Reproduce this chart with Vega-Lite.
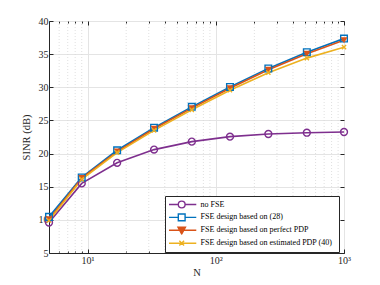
{
  "$schema": "https://vega.github.io/schema/vega-lite/v6.json",
  "width": 295,
  "height": 232,
  "autosize": {"type": "none"},
  "padding": {"left": 49, "top": 21, "right": 36, "bottom": 32},
  "background": "white",
  "view": {"stroke": "#262626", "strokeWidth": 1, "fill": "white"},
  "config": {
    "font": "Liberation Serif",
    "axis": {"labelFont": "Liberation Serif", "titleFont": "Liberation Serif", "labelColor": "#262626", "titleColor": "#262626", "domainColor": "#262626", "tickColor": "#262626", "labelFontSize": 10, "titleFontSize": 10.5, "titleFontWeight": "normal", "gridColor": "#e4e4e4", "labelOverlap": false}
  },
  "datasets": {
    "minor": [
      {"m": 6}, {"m": 7}, {"m": 8}, {"m": 9},
      {"m": 20}, {"m": 30}, {"m": 40}, {"m": 50}, {"m": 60}, {"m": 70}, {"m": 80}, {"m": 90},
      {"m": 200}, {"m": 300}, {"m": 400}, {"m": 500}, {"m": 600}, {"m": 700}, {"m": 800}, {"m": 900}
    ],
    "sinr": [
      {"N": 5, "SINR": 9.6, "series": "no FSE"},
      {"N": 9, "SINR": 15.5, "series": "no FSE"},
      {"N": 17, "SINR": 18.6, "series": "no FSE"},
      {"N": 33, "SINR": 20.6, "series": "no FSE"},
      {"N": 65, "SINR": 21.8, "series": "no FSE"},
      {"N": 129, "SINR": 22.55, "series": "no FSE"},
      {"N": 257, "SINR": 22.95, "series": "no FSE"},
      {"N": 513, "SINR": 23.15, "series": "no FSE"},
      {"N": 1000, "SINR": 23.25, "series": "no FSE"},
      {"N": 5, "SINR": 10.45, "series": "FSE design based on (28)"},
      {"N": 9, "SINR": 16.4, "series": "FSE design based on (28)"},
      {"N": 17, "SINR": 20.5, "series": "FSE design based on (28)"},
      {"N": 33, "SINR": 23.9, "series": "FSE design based on (28)"},
      {"N": 65, "SINR": 27.05, "series": "FSE design based on (28)"},
      {"N": 129, "SINR": 30.05, "series": "FSE design based on (28)"},
      {"N": 257, "SINR": 32.85, "series": "FSE design based on (28)"},
      {"N": 513, "SINR": 35.3, "series": "FSE design based on (28)"},
      {"N": 1000, "SINR": 37.35, "series": "FSE design based on (28)"},
      {"N": 5, "SINR": 10.1, "series": "FSE design based on perfect PDP"},
      {"N": 9, "SINR": 16.3, "series": "FSE design based on perfect PDP"},
      {"N": 17, "SINR": 20.3, "series": "FSE design based on perfect PDP"},
      {"N": 33, "SINR": 23.75, "series": "FSE design based on perfect PDP"},
      {"N": 65, "SINR": 26.85, "series": "FSE design based on perfect PDP"},
      {"N": 129, "SINR": 29.85, "series": "FSE design based on perfect PDP"},
      {"N": 257, "SINR": 32.65, "series": "FSE design based on perfect PDP"},
      {"N": 513, "SINR": 35.05, "series": "FSE design based on perfect PDP"},
      {"N": 1000, "SINR": 37.1, "series": "FSE design based on perfect PDP"},
      {"N": 5, "SINR": 9.9, "series": "FSE design based on estimated PDP  (40)"},
      {"N": 9, "SINR": 16.1, "series": "FSE design based on estimated PDP  (40)"},
      {"N": 17, "SINR": 20.15, "series": "FSE design based on estimated PDP  (40)"},
      {"N": 33, "SINR": 23.5, "series": "FSE design based on estimated PDP  (40)"},
      {"N": 65, "SINR": 26.6, "series": "FSE design based on estimated PDP  (40)"},
      {"N": 129, "SINR": 29.55, "series": "FSE design based on estimated PDP  (40)"},
      {"N": 257, "SINR": 32.2, "series": "FSE design based on estimated PDP  (40)"},
      {"N": 513, "SINR": 34.4, "series": "FSE design based on estimated PDP  (40)"},
      {"N": 1000, "SINR": 36.05, "series": "FSE design based on estimated PDP  (40)"}
    ]
  },
  "layer": [
    {
      "data": {"name": "minor"},
      "mark": {"type": "rule", "color": "#d8d8d8", "strokeDash": [1, 2], "strokeWidth": 0.8},
      "encoding": {
        "x": {"field": "m", "type": "quantitative", "scale": {"type": "log", "domain": [5, 1000], "nice": false},
          "axis": {"orient": "top", "values": [10, 100, 1000], "grid": false, "labels": false, "title": null, "domain": false, "tickSize": -4}}
      }
    },
    {
      "data": {"name": "sinr"},
      "mark": {"type": "line", "strokeWidth": 1.6, "clip": true},
      "encoding": {
        "x": {"field": "N", "type": "quantitative", "title": "N",
          "scale": {"type": "log", "domain": [5, 1000], "nice": false},
          "axis": {"values": [10, 100, 1000], "grid": true, "tickSize": -4, "labelPadding": 6, "titlePadding": 2, "labelFlush": false,
            "labelExpr": "datum.value == 10 ? '10¹' : datum.value == 100 ? '10²' : '10³'"}},
        "y": {"field": "SINR", "type": "quantitative", "title": "SINR (dB)",
          "scale": {"domain": [5, 40], "nice": false, "zero": false},
          "axis": {"values": [5, 10, 15, 20, 25, 30, 35, 40], "tickCount": 20, "grid": true, "tickSize": -4, "labelPadding": 5, "titlePadding": 7, "labelFlush": false}},
        "color": {"field": "series", "type": "nominal", "sort": null,
          "scale": {"domain": ["no FSE", "FSE design based on (28)", "FSE design based on perfect PDP", "FSE design based on estimated PDP  (40)"],
            "range": ["#7E2F8E", "#0072BD", "#D95319", "#EDB120"]},
          "legend": {"orient": "none", "legendX": 116, "legendY": 175, "title": null, "symbolSize": 52, "symbolStrokeWidth": 1.4, "symbolOffset": 8.2,
            "labelFont": "Liberation Serif", "labelFontSize": 8, "labelColor": "#000000", "rowPadding": 3.9, "padding": 4, "clipHeight": 9,
            "fillColor": "white", "strokeColor": "#262626", "labelOffset": 14.4,
            "encode": {"symbols": {"update": {
              "size": {"value": 46},
              "shape": {"signal": "datum.value == 'no FSE' ? 'M-4.3,0H-1A1,1 0 1,1 1,0A1,1 0 1,1 -1,0M1,0H4.3' : datum.value == 'FSE design based on (28)' ? 'M-4.3,0H-1M1,0H4.3M-1,-1H1V1H-1Z' : datum.value == 'FSE design based on perfect PDP' ? 'M-4.3,0H4.3M-1.1,-0.9H1.1L0,1.1Z' : 'M-4.3,0H4.3M-0.7,-0.7L0.7,0.7M-0.7,0.7L0.7,-0.7'"},
              "fill": {"signal": "datum.value == 'FSE design based on perfect PDP' ? '#D95319' : 'transparent'"}
            }}}}}
      }
    },
    {
      "data": {"name": "sinr"},
      "transform": [{"filter": "datum.series == 'no FSE'"}],
      "mark": {"type": "point", "shape": "circle", "size": 48, "strokeWidth": 1.4, "opacity": 1, "filled": false, "color": "#7E2F8E"},
      "encoding": {
        "x": {"field": "N", "type": "quantitative", "axis": {"orient": "bottom", "values": [6, 7, 8, 9, 20, 30, 40, 50, 60, 70, 80, 90, 200, 300, 400, 500, 600, 700, 800, 900], "labels": false, "grid": false, "domain": false, "title": null, "tickSize": -2}},
        "y": {"field": "SINR", "type": "quantitative", "axis": {"orient": "right", "values": [5, 10, 15, 20, 25, 30, 35, 40], "tickCount": 20, "labels": false, "grid": false, "domain": false, "title": null, "tickSize": -4}}
      }
    },
    {
      "data": {"name": "sinr"},
      "transform": [{"filter": "datum.series == 'FSE design based on (28)'"}],
      "mark": {"type": "point", "shape": "square", "size": 44, "strokeWidth": 1.4, "opacity": 1, "filled": false, "color": "#0072BD"},
      "encoding": {
        "x": {"field": "N", "type": "quantitative", "axis": {"orient": "top", "values": [6, 7, 8, 9, 20, 30, 40, 50, 60, 70, 80, 90, 200, 300, 400, 500, 600, 700, 800, 900], "labels": false, "grid": false, "domain": false, "title": null, "tickSize": -2}},
        "y": {"field": "SINR", "type": "quantitative", "axis": null}
      }
    },
    {
      "data": {"name": "sinr"},
      "transform": [{"filter": "datum.series == 'FSE design based on perfect PDP'"}],
      "mark": {"type": "point", "shape": "triangle-down", "size": 48, "strokeWidth": 1.2, "opacity": 1, "filled": true, "color": "#D95319"},
      "encoding": {
        "x": {"field": "N", "type": "quantitative", "axis": null},
        "y": {"field": "SINR", "type": "quantitative", "axis": null}
      }
    },
    {
      "data": {"name": "sinr"},
      "transform": [{"filter": "datum.series == 'FSE design based on estimated PDP  (40)'"}],
      "mark": {"type": "point", "shape": "M-0.7,-0.7L0.7,0.7M-0.7,0.7L0.7,-0.7", "size": 36, "strokeWidth": 1.4, "opacity": 1, "filled": false, "color": "#EDB120"},
      "encoding": {
        "x": {"field": "N", "type": "quantitative", "axis": null},
        "y": {"field": "SINR", "type": "quantitative", "axis": null}
      }
    }
  ],
  "resolve": {"axis": {"x": "independent", "y": "independent"}}
}
